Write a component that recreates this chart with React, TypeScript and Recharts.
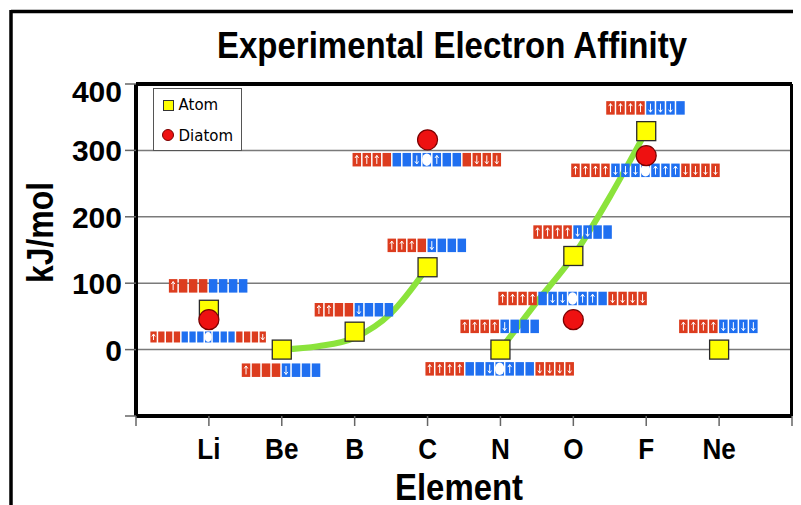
import React from 'react';
import { ComposedChart, Line, Scatter, XAxis, YAxis, CartesianGrid, ReferenceLine } from 'recharts';

const elements = ['Li', 'Be', 'B', 'C', 'N', 'O', 'F', 'Ne'];
const atomAffinity = [60, 0, 27, 124, 0, 141, 329, 0];
const diatomAffinity = [45, null, null, 316, null, 45, 292, null];

// green guide curves
const trendAX = [2, 2.5, 3, 3.5, 4];
const trendAY = [0, 5, 18, 55, 124];
const trendBX = [5, 5.5, 6, 6.5, 7];
const trendBY = [0, 72, 141, 230, 329];

// orbital box rows: u = up arrow, d = down arrow, 0 = empty, o = hole; red | blue | red
const boxX = [1, 1, 2, 3, 4, 4, 5, 5, 6, 6, 7, 7, 8];
const boxY = [96, 19, -31, 60, 157, 286, 35, -29, 177, 77, 364, 270, 35];
const boxCodes = [
  'u000|0000',
  'u000|000o000|000d',
  'u000|d000',
  'uu00|d000',
  'uuu0|d000',
  'uuu0|00dou00|0ddd',
  'uuuu|d000',
  'uuuu|00dou00|dddd',
  'uuuu|dd00',
  'uuuu|0ddouu0|dddd',
  'uuuu|ddd0',
  'uuuu|dddouuu|dddd',
  'uuuu|dddd',
];

const yTicks = [-100, 0, 100, 200, 300, 400];
const gridValues = [0, 100, 200, 300];
const xTicks = [0, 1, 2, 3, 4, 5, 6, 7, 8, 9];

const atomData = elements.map((name, i) => ({ name, x: i + 1, y: atomAffinity[i] }));
const diatomData = elements
  .map((name, i) => ({ name, x: i + 1, y: diatomAffinity[i] }))
  .filter((d) => d.y !== null);
const trendA = trendAX.map((x, i) => ({ x, y: trendAY[i] }));
const trendB = trendBX.map((x, i) => ({ x, y: trendBY[i] }));
const boxData = boxX.map((x, i) => ({ x, y: boxY[i], code: boxCodes[i], idx: i }));

const RED = '#dc3c1e';
const BLUE = '#1f6ff0';
const FONT = '"Liberation Sans", Arial, sans-serif';
const compactRows = [1]; // the Li2 row is drawn smaller

const Arrow = ({ x, top, h, up }: any) => {
  const y1 = top + 2.5;
  const y2 = top + h - 2.5;
  const tip = up ? y1 : y2;
  const s = up ? 1 : -1;
  return (
    <g stroke="#fff" strokeWidth={1} fill="none">
      <line x1={x} y1={y1} x2={x} y2={y2} />
      <polyline points={`${x - 1.8},${tip + s * 2.5} ${x},${tip} ${x + 1.8},${tip + s * 2.5}`} />
    </g>
  );
};

const OrbitalRow = (props: any) => {
  const { cx, cy, payload } = props;
  if (cx == null || cy == null) return <g />;
  const compact = compactRows.includes(payload.idx);
  const step = compact ? 7.8 : 10;
  const w = step - 1.5;
  const h = compact ? 11 : 13.5;
  const parts = payload.code.split('|');
  const cells: { c: string; color: string }[] = [];
  parts.forEach((p: string, k: number) => {
    for (const c of p) cells.push({ c, color: k === 1 ? BLUE : RED });
  });
  const left = cx - (cells.length * step) / 2;
  const top = cy - h / 2;
  return (
    <g>
      {cells.map((cell, i) => {
        const bx = left + i * step;
        const mid = bx + w / 2;
        return (
          <g key={i}>
            <rect x={bx} y={top} width={w} height={h} fill={cell.color} />
            {cell.c === 'o' && <ellipse cx={mid} cy={cy} rx={w / 2 + 0.5} ry={h / 2 - 0.5} fill="#fff" />}
            {cell.c === 'u' && <Arrow x={mid} top={top} h={h} up />}
            {cell.c === 'd' && <Arrow x={mid} top={top} h={h} up={false} />}
          </g>
        );
      })}
    </g>
  );
};

const AtomMark = (props: any) => {
  const { cx, cy } = props;
  if (cx == null || cy == null) return <g />;
  return <rect x={cx - 9.5} y={cy - 9.5} width={19} height={19} fill="#ffff00" stroke="#2a2a2a" strokeWidth={1.3} />;
};

const DiatomMark = (props: any) => {
  const { cx, cy } = props;
  if (cx == null || cy == null) return <g />;
  return <circle cx={cx} cy={cy} r={10} fill="#ee1111" stroke="#7a0000" strokeWidth={1.2} />;
};

const YTick = ({ x, y, payload }: any) => {
  if (payload.value === -100) return <g />;
  const shift = payload.value === 400 ? 7 : 0;
  return (
    <text x={x} y={y + shift} dy={11} textAnchor="end" fontFamily={FONT} fontWeight="bold" fontSize={30} fill="#000">
      {payload.value}
    </text>
  );
};

const XTick = ({ x, payload }: any) => {
  const name = elements[payload.value - 1];
  if (!name) return <g />;
  return (
    <text
      transform={`translate(${x},459) scale(0.9,1)`}
      textAnchor="middle"
      fontFamily={FONT}
      fontWeight="bold"
      fontSize={29}
      fill="#000"
    >
      {name}
    </text>
  );
};

const App = () => {
  return (
    <div style={{ position: 'relative', width: 801, height: 505, margin: '-8px 0 0 -8px', background: '#fff', overflow: 'hidden' }}>
      <div style={{ position: 'absolute', left: 0, top: 0 }}>
        <ComposedChart width={801} height={505} margin={{ top: 84, right: 9, bottom: 49, left: 56 }}>
          <CartesianGrid horizontal vertical={false} horizontalValues={gridValues} stroke="#7a7a7a" strokeWidth={1.5} />
          <XAxis
            type="number"
            dataKey="x"
            domain={[0, 9]}
            ticks={xTicks}
            interval={0}
            height={40}
            tick={<XTick />}
            tickSize={10}
            tickLine={{ stroke: '#666', strokeWidth: 1.5 }}
            axisLine={{ stroke: '#000', strokeWidth: 4 }}
            allowDataOverflow
          />
          <YAxis
            type="number"
            dataKey="y"
            domain={[-100, 400]}
            ticks={yTicks}
            interval={0}
            width={80}
            tick={<YTick />}
            tickSize={11}
            tickMargin={3}
            tickLine={{ stroke: '#666', strokeWidth: 1.5 }}
            axisLine={{ stroke: '#000', strokeWidth: 4 }}
            allowDataOverflow
          />
          <ReferenceLine y={400} stroke="#000" strokeWidth={4} />
          <ReferenceLine x={9} stroke="#000" strokeWidth={4} />
          <Line data={trendA} dataKey="y" type="monotone" stroke="#8be33b" strokeWidth={6} dot={false} isAnimationActive={false} />
          <Line data={trendB} dataKey="y" type="monotone" stroke="#8be33b" strokeWidth={6} dot={false} isAnimationActive={false} />
          <Scatter data={boxData} dataKey="y" shape={<OrbitalRow />} isAnimationActive={false} />
          <Scatter data={atomData} dataKey="y" shape={<AtomMark />} isAnimationActive={false} />
          <Scatter data={diatomData} dataKey="y" shape={<DiatomMark />} isAnimationActive={false} />
        </ComposedChart>
      </div>
      <svg width={801} height={505} style={{ position: 'absolute', left: 0, top: 0, pointerEvents: 'none' }}>
        <line x1={11} y1={11.5} x2={801} y2={11.5} stroke="#000" strokeWidth={3.5} />
        <line x1={11} y1={10} x2={11} y2={505} stroke="#000" strokeWidth={3.5} />
        <text x={217} y={58} fontFamily={FONT} fontWeight="bold" fontSize={36.5} textLength={470} lengthAdjust="spacingAndGlyphs">
          Experimental Electron Affinity
        </text>
        <text x={395} y={500} fontFamily={FONT} fontWeight="bold" fontSize={37} textLength={128} lengthAdjust="spacingAndGlyphs">
          Element
        </text>
        <text
          transform="translate(53,232.5) rotate(-90)"
          textAnchor="middle"
          fontFamily={FONT}
          fontWeight="bold"
          fontSize={36}
          textLength={101}
          lengthAdjust="spacingAndGlyphs"
        >
          kJ/mol
        </text>
        <g transform="translate(153.5,88.5)">
          <rect x={0} y={0} width={88} height={62} fill="#fff" stroke="#555" strokeWidth={1} />
          <rect x={10} y={12} width={10} height={10} fill="#ffff00" stroke="#333" strokeWidth={1} />
          <text x={25} y={21} fontFamily="DejaVu Sans, sans-serif" fontSize={15} fill="#000">Atom</text>
          <circle cx={14.5} cy={46.5} r={5.5} fill="#ee1111" stroke="#7a0000" strokeWidth={1} />
          <text x={25} y={52} fontFamily="DejaVu Sans, sans-serif" fontSize={15} fill="#000">Diatom</text>
        </g>
      </svg>
    </div>
  );
};

export default App;
